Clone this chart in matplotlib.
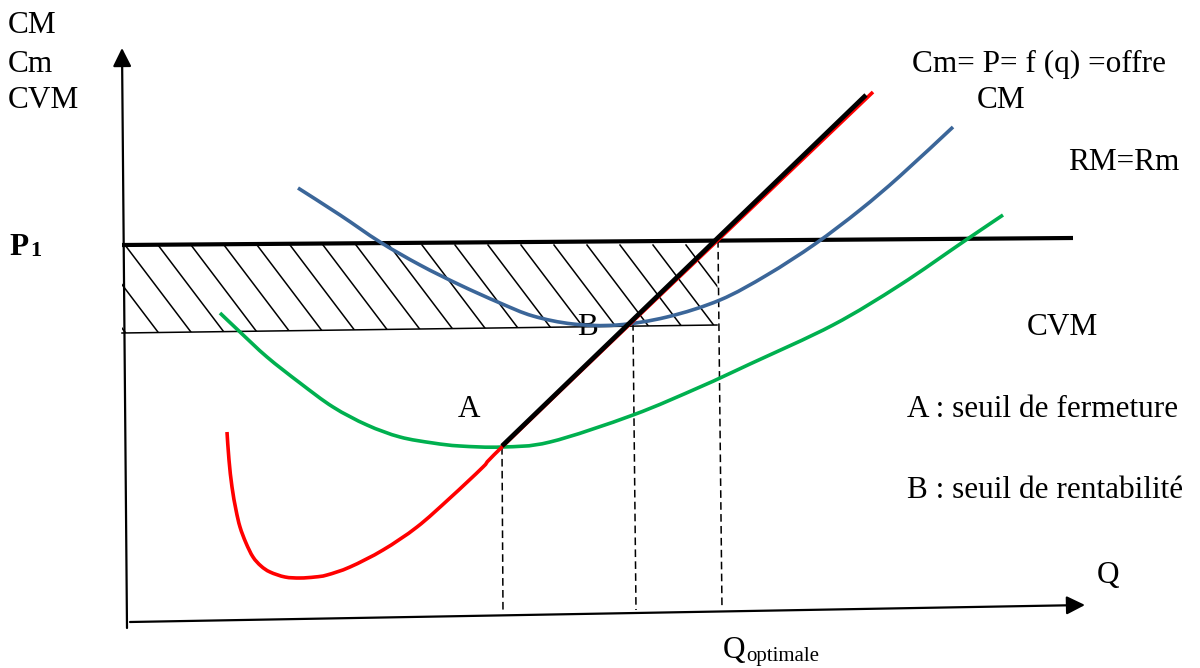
import numpy as np
import matplotlib as mpl
from matplotlib import pyplot as plt
from matplotlib.patches import Polygon, PathPatch
from matplotlib.path import Path

plt.rcParams['font.family'] = 'Liberation Serif'
plt.rcParams['font.size'] = 22.5

# diagram frame: x to the right, y downward (screen-like), 1200 x 668
# Cm (coût marginal): U-shaped part, then the straight offer part
cm_x = [227, 229, 232, 236, 240, 246, 253, 261, 270, 285, 300, 315, 327, 350, 383, 417, 450, 483, 502, 631, 718, 873]
cm_y = [432, 460, 487, 510, 527, 543, 557, 566, 572, 577, 578, 577, 575, 567, 550, 527, 498, 467, 447, 323, 240, 92]

# CM (coût moyen)
cmoy_x = [298, 340, 380, 420, 460, 500, 533, 573, 617, 667, 720, 767, 815, 860, 900, 953]
cmoy_y = [188, 215, 242, 265, 285, 303, 316, 324, 325, 317, 300, 275, 244, 210, 176, 127]

# CVM (coût variable moyen)
cvm_x = [220, 240, 267, 300, 333, 367, 400, 433, 460, 502, 550, 633, 700, 750, 833, 900, 963, 1003]
cvm_y = [313, 332, 357, 383, 407, 425, 437, 443, 446, 447, 442, 415, 387, 364, 325, 285, 242, 215]

# offre: Cm above the CVM minimum
offre_x = [502, 866]
offre_y = [446, 95]

# price P1 = RM = Rm
p1_x = [122, 1073]
p1_y = [245, 238]

# points A (seuil de fermeture), B (seuil de rentabilité), Q optimale
qa, ya = 502, 447
qb, yb = 633, 323
qopt, yopt = 718, 240
q_axis_y = 612
cm_min_end = (717, 325)


def smooth_path(xs, ys):
    # Catmull-Rom through the points, drawn as cubic Bezier segments
    P = np.column_stack([xs, ys]).astype(float)
    n = len(P)
    verts = [P[0]]
    codes = [Path.MOVETO]
    for i in range(n - 1):
        p0 = P[i - 1] if i > 0 else P[i]
        p1, p2 = P[i], P[i + 1]
        p3 = P[i + 2] if i + 2 < n else P[i + 1]
        verts += [p1 + (p2 - p0) / 6, p2 - (p3 - p1) / 6, p2]
        codes += [Path.CURVE4] * 3
    return Path(verts, codes)


def add_curve(ax, xs, ys, color, lw, zorder):
    patch = PathPatch(smooth_path(xs, ys), fill=False, edgecolor=color, lw=lw,
                      zorder=zorder, capstyle='butt')
    ax.add_patch(patch)


fig = plt.figure(figsize=(12, 6.68), dpi=100)
ax = fig.add_axes([0, 0, 1, 1])
ax.set_xlim(0, 1200)
ax.set_ylim(668, 0)
ax.axis('off')

# axes with arrows
ax.annotate('', xy=(122, 48), xytext=(127, 628),
            arrowprops=dict(arrowstyle='-|>', lw=1.6, color='k', mutation_scale=28, shrinkA=0, shrinkB=0))
ax.annotate('', xy=(1085, 605), xytext=(130, 622),
            arrowprops=dict(arrowstyle='-|>', lw=1.6, color='k', mutation_scale=28, shrinkA=0, shrinkB=0))

# hatched profit area between P1 and the CM minimum
area = Polygon([(p1_x[0], p1_y[0]), (qopt, yopt), cm_min_end, (122, 333)],
               closed=True, fill=False, lw=0)
ax.add_patch(area)
for x0 in np.arange(26, 760, 33):
    ln, = ax.plot([x0, x0 + 100 / 1.32], [245, 345], color='k', lw=1.1, zorder=1)
    ln.set_clip_path(area)
ax.plot([122, cm_min_end[0]], [333, cm_min_end[1]], color='k', lw=1.1, zorder=1)

# P1 line
ax.plot(p1_x, p1_y, color='k', lw=3.0, zorder=2, solid_capstyle='butt')

# dashed projections onto Q axis
dash = dict(color='k', lw=1.1, ls=(0, (5, 2.8)), zorder=1)
ax.plot([qa, qa + 1], [ya, q_axis_y], **dash)
ax.plot([qb, qb + 3], [yb, q_axis_y - 2], **dash)
ax.plot([qopt, qopt + 4], [yopt, q_axis_y - 3], **dash)

# cost curves
add_curve(ax, cvm_x, cvm_y, '#00B04F', 2.6, 3)
add_curve(ax, cmoy_x, cmoy_y, '#3B6699', 2.6, 3)
add_curve(ax, cm_x, cm_y, '#FF0000', 2.6, 4)
ax.plot(offre_x, offre_y, color='k', lw=3.4, zorder=5, solid_capstyle='butt')

# labels
for s, y in zip(['CM', 'Cm', 'CVM'], [33, 72, 108]):
    ax.text(8, y, s, va='baseline', ha='left')
ax.text(9, 255, 'P', va='baseline', ha='left', fontweight='bold')
ax.text(30, 256, '1', va='baseline', ha='left', fontweight='bold', fontsize=16)

ax.text(912, 72, 'Cm= P= f (q) =offre', va='baseline')
ax.text(977, 108, 'CM', va='baseline')
ax.text(1068, 170, 'RM=Rm', va='baseline')
ax.text(1027, 335, 'CVM', va='baseline')
ax.text(458, 417, 'A', va='baseline')
ax.text(577, 335, 'B', va='baseline', zorder=2)
ax.text(907, 417, 'A : seuil de fermeture', va='baseline')
ax.text(907, 498, 'B : seuil de rentabilité', va='baseline')
ax.text(1097, 583, 'Q', va='baseline')
ax.text(723, 658, 'Q', va='baseline')
ax.text(746, 661, 'optimale', va='baseline', fontsize=15)

fig.savefig('out.png', dpi=100)
